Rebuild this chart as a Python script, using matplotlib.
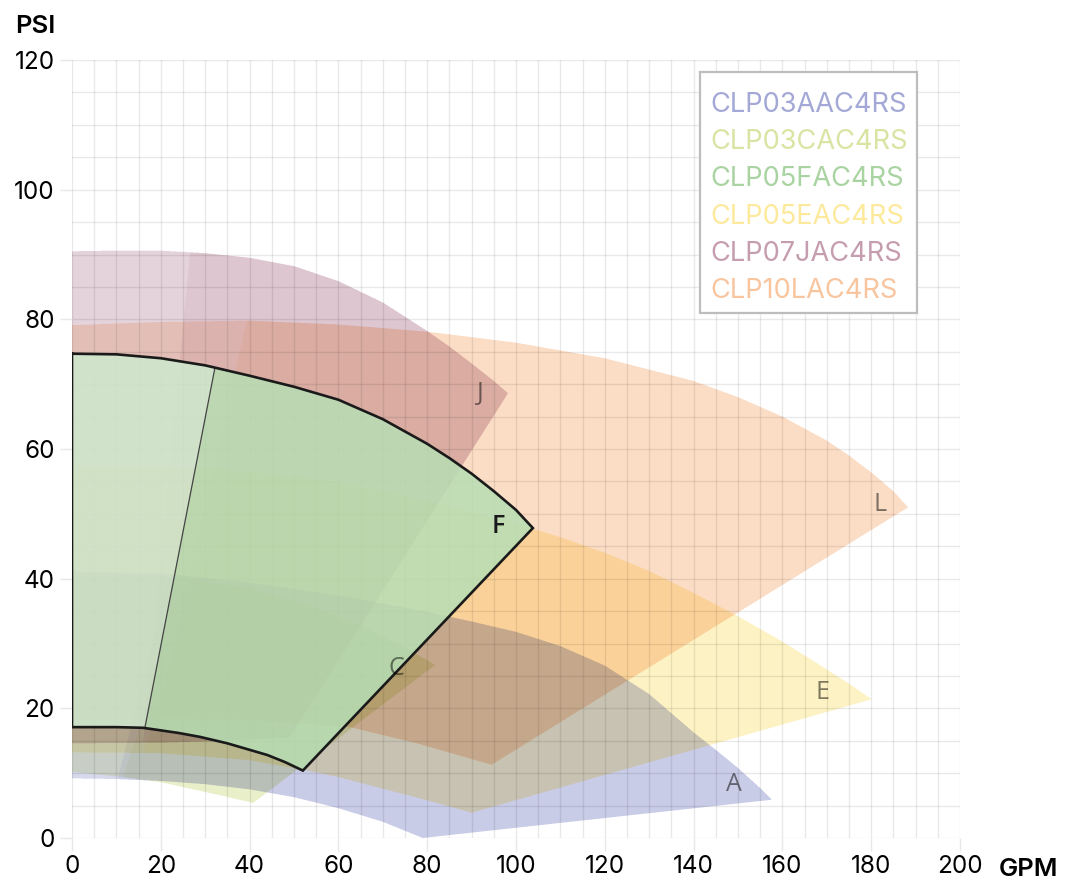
import numpy as np
import matplotlib.pyplot as plt
from matplotlib.patches import Rectangle
from matplotlib.path import Path

# pump models (legend order)
models = ["CLP03AAC4RS", "CLP03CAC4RS", "CLP05FAC4RS", "CLP05EAC4RS", "CLP07JAC4RS", "CLP10LAC4RS"]
letters = ["A", "C", "F", "E", "J", "L"]
colors = ["#a3a8d6", "#d9e4a2", "#a9d3a0", "#fde99b", "#c59daf", "#f9c59e"]

# max impeller curve (top) and min impeller curve (bottom), GPM / PSI
a_top_x = [0, 20, 40, 60, 80, 90, 100, 110, 120, 130, 140, 145, 150, 155, 157.6]
a_top_y = [41.2, 40.8, 39.4, 37.4, 34.9, 33.4, 31.8, 29.6, 26.6, 22.2, 16.3, 13.6, 10.8, 7.7, 5.9]
a_bot_x = [0, 10, 20, 30, 40, 50, 60, 70, 79]
a_bot_y = [9.2, 9.1, 8.8, 8.3, 7.5, 6.3, 4.6, 2.5, 0]

c_top_x = [0, 20, 40, 55, 65, 75.5, 81.8]
c_top_y = [41, 40.5, 38.5, 35.5, 32.8, 29.2, 26.7]
c_bot_x = [0, 11.5, 20, 27.3, 34, 40.8]
c_bot_y = [10.2, 9.4, 8.6, 7.5, 6.5, 5.4]

f_top_x = [0, 10, 20, 30, 40, 50, 60, 70, 80, 85, 90, 95, 100, 103.8]
f_top_y = [74.7, 74.6, 74.0, 72.9, 71.3, 69.6, 67.6, 64.6, 60.8, 58.6, 56.2, 53.5, 50.6, 47.8]
f_bot_x = [0, 10, 16, 20, 24, 28.8, 35, 40, 44, 48, 52]
f_bot_y = [17.1, 17.1, 17.0, 16.6, 16.2, 15.6, 14.6, 13.6, 12.8, 11.7, 10.4]

e_top_x = [0, 20, 40, 60, 80, 100, 110, 120, 130, 140, 150, 160, 170, 175, 180.1]
e_top_y = [57.5, 57.3, 56.5, 54.9, 52.0, 48.5, 46.4, 44.0, 41.2, 37.8, 34.2, 30.3, 26.0, 23.8, 21.4]
e_bot_x = [0, 20, 40, 51.4, 60, 70, 80, 90]
e_bot_y = [13.2, 13.1, 12.0, 10.6, 9.4, 7.6, 5.8, 3.9]

j_top_x = [0, 10, 20, 30, 40, 50, 60, 70, 80, 85, 90, 95, 98.2]
j_top_y = [90.5, 90.6, 90.6, 90.2, 89.5, 88.2, 85.9, 82.6, 78.2, 75.8, 73.2, 70.5, 68.6]
j_bot_x = [0, 20, 35, 49]
j_bot_y = [14.6, 14.7, 15.0, 15.5]

l_top_x = [0, 20, 40, 60, 80, 100, 120, 140, 150, 160, 170, 175, 180, 185, 188.3]
l_top_y = [79.1, 79.6, 79.8, 79.2, 78.1, 76.4, 74.0, 70.5, 68.0, 65.0, 61.3, 59.0, 56.4, 53.5, 51.0]
l_bot_x = [0, 20, 40, 62.6, 77.7, 94.5]
l_bot_y = [18.2, 18.4, 18.2, 17.1, 14.6, 11.3]

# min-flow line: GPM where it meets the top and the bottom curve
split_top = [22, 26, 32.2, 37, 26.6, 39.4]
split_bot = [10.3, 11.5, 16.4, 16, 16, 19]

# letter label positions
label_x = [149, 73, 96, 169, 92, 182]
label_y = [8.2, 26.2, 48, 22.4, 68.6, 51.4]

tops = [(a_top_x, a_top_y), (c_top_x, c_top_y), (f_top_x, f_top_y),
        (e_top_x, e_top_y), (j_top_x, j_top_y), (l_top_x, l_top_y)]
bots = [(a_bot_x, a_bot_y), (c_bot_x, c_bot_y), (f_bot_x, f_bot_y),
        (e_bot_x, e_bot_y), (j_bot_x, j_bot_y), (l_bot_x, l_bot_y)]


def split_region(tx, ty, bx, by, st, sb):
    tx, ty, bx, by = map(np.asarray, (tx, ty, bx, by))
    yst = np.interp(st, tx, ty)
    ysb = np.interp(sb, bx, by)
    lt = tx < st
    lb = bx < sb
    left = np.column_stack([list(tx[lt]) + [st, sb] + list(bx[lb][::-1]),
                            list(ty[lt]) + [yst, ysb] + list(by[lb][::-1])])
    right = np.column_stack([[st] + list(tx[~lt]) + list(bx[~lb][::-1]) + [sb],
                             [yst] + list(ty[~lt]) + list(by[~lb][::-1]) + [ysb]])
    return left, right, (st, yst, sb, ysb)


def rgb(h):
    return np.array([int(h[k:k + 2], 16) for k in (1, 3, 5)]) / 255.0


FW, FH = 1065, 882
fig = plt.figure(figsize=(FW / 100, FH / 100), dpi=100)
ax = fig.add_axes([72 / FW, 44 / FH, 888 / FW, 778 / FH])

# the non-selected curves are blended "multiply"-style, so build that layer as an image
W, H, ss = 888, 778, 3
gx = (np.arange(W * ss) + 0.5) / (W * ss) * 200
gy = 120 - (np.arange(H * ss) + 0.5) / (H * ss) * 120
PX, PY = np.meshgrid(gx, gy)
pts = np.column_stack([PX.ravel(), PY.ravel()])
layer = np.ones((H * ss * W * ss, 3))

f_idx = letters.index("F")
for i in range(len(models)):
    if i == f_idx:
        continue
    (tx, ty), (bx, by) = tops[i], bots[i]
    left, right, _ = split_region(tx, ty, bx, by, split_top[i], split_bot[i])
    base = rgb(colors[i])
    for poly, op in ((left, 0.44), (right, 0.58)):
        m = Path(poly).contains_points(pts)
        layer[m] *= 1 - op * (1 - base)
layer = layer.reshape(H, ss, W, ss, 3).mean(axis=(1, 3))
ax.imshow(layer, extent=[0, 200, 0, 120], aspect="auto", interpolation="nearest", zorder=0.5)

# selected model drawn on top
(tx, ty), (bx, by) = tops[f_idx], bots[f_idx]
left, right, sp = split_region(tx, ty, bx, by, split_top[f_idx], split_bot[f_idx])
ax.fill(left[:, 0], left[:, 1], color="#cfe9cf", alpha=0.86, lw=0, zorder=3)
ax.fill(right[:, 0], right[:, 1], color="#b7deb4", alpha=0.86, lw=0, zorder=3)
ax.plot([sp[0], sp[2]], [sp[1], sp[3]], color="#444444", lw=0.9, zorder=4)
out_x = list(tx) + list(bx[::-1]) + [tx[0]]
out_y = list(ty) + list(by[::-1]) + [ty[0]]
ax.plot(out_x, out_y, color="#1a1a1a", lw=1.9, zorder=4, solid_joinstyle="miter")

for i in range(len(letters)):
    if i == f_idx:
        ax.text(label_x[i], label_y[i], letters[i], color="#1a1a1a", fontsize=18, weight="semibold",
                family="Open Sans", ha="center", va="center", zorder=5)
    else:
        ax.text(label_x[i], label_y[i], letters[i], color="black", alpha=0.5, fontsize=18,
                family="Open Sans", ha="center", va="center", zorder=5)

ax.set_xlim(0, 200)
ax.set_ylim(0, 120)
ax.set_xticks(np.arange(0, 201, 20))
ax.set_xticks(np.arange(0, 201, 5), minor=True)
ax.set_yticks(np.arange(0, 121, 20))
ax.set_yticks(np.arange(0, 121, 5), minor=True)
ax.set_axisbelow(False)
ax.grid(True, which="both", color="black", alpha=0.085, lw=1.0)
for s in ax.spines.values():
    s.set_visible(False)
ax.tick_params(which="major", length=9, width=1.0, color="#e8e8e8", labelsize=17.5, pad=3.5)
ax.tick_params(which="minor", length=0)
for lab in ax.get_xticklabels() + ax.get_yticklabels():
    lab.set_family("Inter")

fig.text(15 / FW, 1 - 33 / FH, "PSI", fontsize=18.5, family="Inter", weight="semibold", va="baseline")
fig.text(999 / FW, 1 - 876 / FH, "GPM", fontsize=18.5, family="Inter", weight="semibold", va="baseline")

# legend: coloured names only, in a plain grey box
fig.patches.append(Rectangle((700 / FW, 1 - 313 / FH), 217 / FW, 241 / FH, transform=fig.transFigure,
                             facecolor="white", edgecolor="#bdbdbd", lw=1.6, zorder=6))
for k, (name, c) in enumerate(zip(models, colors)):
    fig.text(710 / FW, 1 - (111.5 + 37.4 * k) / FH, name, color=c, fontsize=19.6,
             family="Inter", va="baseline", zorder=7)

fig.savefig("out.png", dpi=100)
